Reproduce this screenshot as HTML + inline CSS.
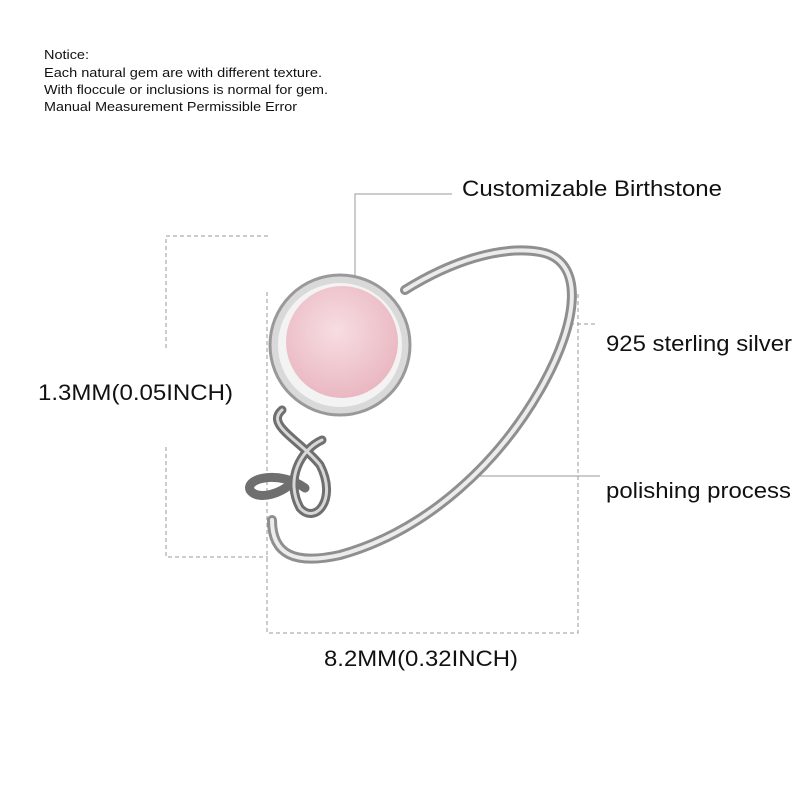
<!DOCTYPE html>
<html><head><style>
body{margin:0;background:#fff;width:800px;height:800px;overflow:hidden;font-family:"Liberation Sans",sans-serif}
</style></head><body>
<svg width="800" height="800" xmlns="http://www.w3.org/2000/svg" style="position:absolute;left:0;top:0">
<defs>
<radialGradient id="st" cx="0.45" cy="0.4" r="0.6"><stop offset="0" stop-color="#f7dde2"/><stop offset="1" stop-color="#eab8c2"/></radialGradient>
</defs>
<g font-family="Liberation Sans, sans-serif" fill="#111">
<text x="44" y="59" font-size="13" textLength="45" lengthAdjust="spacingAndGlyphs">Notice:</text>
<text x="44" y="77" font-size="13" textLength="278" lengthAdjust="spacingAndGlyphs">Each natural gem are with different  texture.</text>
<text x="44" y="94" font-size="13" textLength="284" lengthAdjust="spacingAndGlyphs">With floccule or inclusions is normal for gem.</text>
<text x="44" y="111" font-size="13" textLength="253" lengthAdjust="spacingAndGlyphs">Manual Measurement Permissible Error</text>
<text x="462" y="196" font-size="22" textLength="260" lengthAdjust="spacingAndGlyphs">Customizable Birthstone</text>
<text x="606" y="351" font-size="22" textLength="186" lengthAdjust="spacingAndGlyphs">925 sterling silver</text>
<text x="606" y="498" font-size="22" textLength="185" lengthAdjust="spacingAndGlyphs">polishing process</text>
<text x="38" y="400" font-size="22" textLength="195" lengthAdjust="spacingAndGlyphs">1.3MM(0.05INCH)</text>
<text x="324" y="666" font-size="22" textLength="194" lengthAdjust="spacingAndGlyphs">8.2MM(0.32INCH)</text>
</g>
<g stroke="#999" stroke-width="1" fill="none" stroke-dasharray="4,3">
<path d="M268 236H166V350M166 447V557H268"/>
<path d="M267 292V633H578V292"/>
<path d="M570 324H598"/>
</g>
<g stroke="#999" stroke-width="1" fill="none">
<path d="M355 305V194H452"/>
<path d="M470 476H600"/>
</g>
<g fill="none" stroke-linecap="round">
<path d="M405 290 C450 262 500 245 540 252 C585 260 580 320 540 390 C500 460 430 530 340 555 C295 565 272 555 272 520" stroke="#8f8f8f" stroke-width="10"/>
<path d="M405 290 C450 262 500 245 540 252 C585 260 580 320 540 390 C500 460 430 530 340 555 C295 565 272 555 272 520" stroke="#ececec" stroke-width="4"/>
<path d="M282 410 C265 425 300 440 320 465 C338 500 315 525 300 508 C285 480 300 450 322 440 M305 488 C280 470 245 478 250 490 C258 502 285 492 292 482" stroke="#6f6f6f" stroke-width="9"/>
<path d="M282 410 C265 425 300 440 320 465 C338 500 315 525 300 508 C285 480 300 450 322 440" stroke="#d8d8d8" stroke-width="3"/>
</g>
<circle cx="340" cy="345" r="70" fill="#d9d9d9" stroke="#999" stroke-width="3"/>
<circle cx="340" cy="345" r="62" fill="#f3f3f3"/>
<circle cx="342" cy="342" r="56" fill="url(#st)"/>
</svg>
</body></html>
